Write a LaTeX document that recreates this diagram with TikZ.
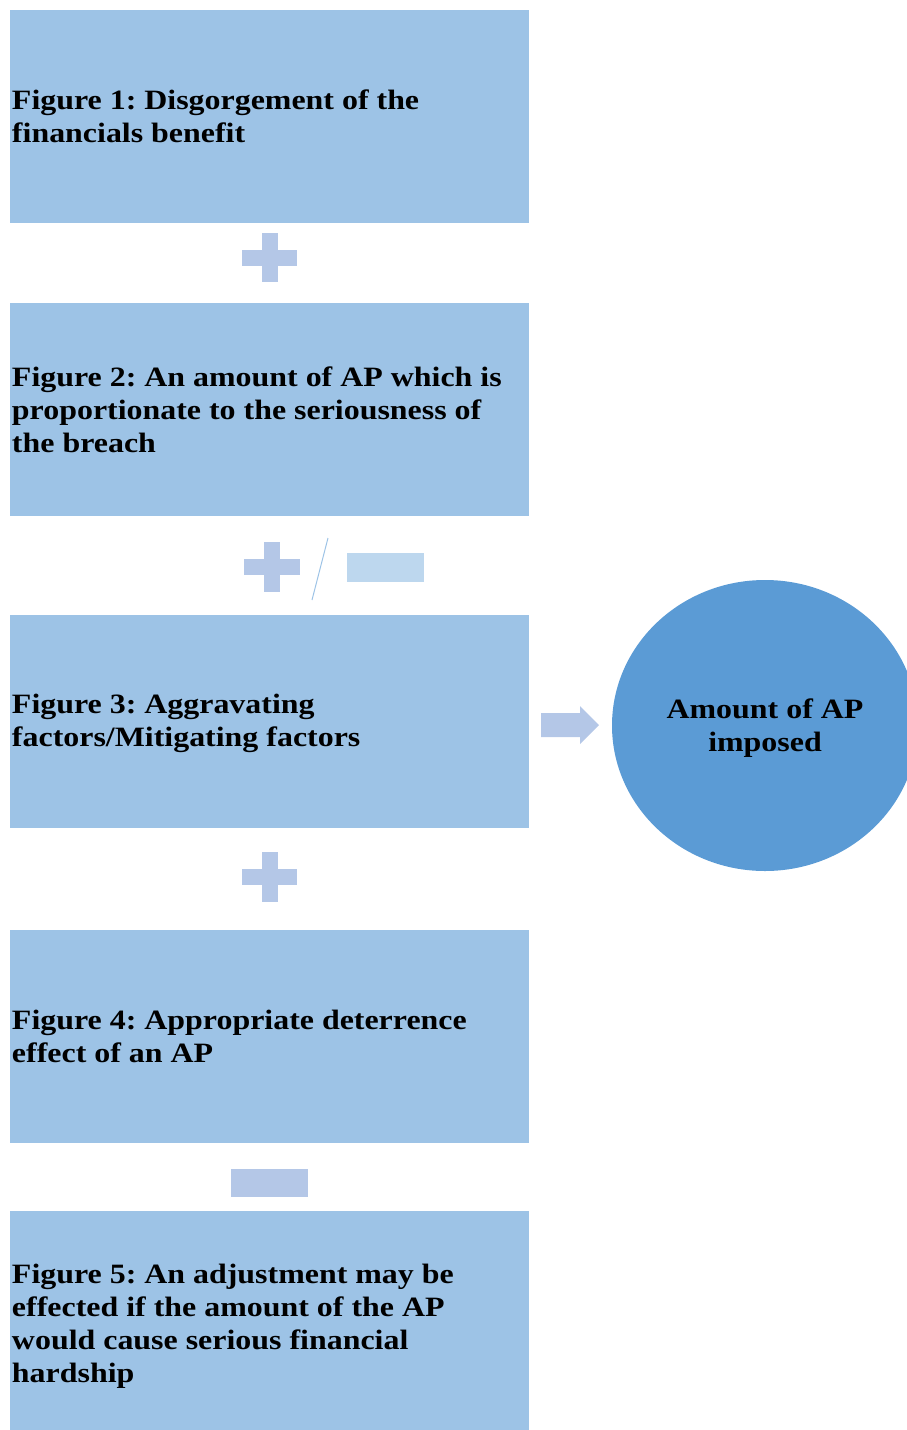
\documentclass[tikz,border=0pt]{standalone}
\usepackage{fontspec}
\setmainfont[FakeStretch=1.14]{Liberation Serif}
\usepackage{xcolor}
\usetikzlibrary{positioning,shapes.geometric}

\definecolor{boxblue}{HTML}{9DC3E6}
\definecolor{ballblue}{HTML}{5B9BD5}
\definecolor{signblue}{HTML}{B4C7E7}
\definecolor{paleblue}{HTML}{BDD7EE}
\frenchspacing

\begin{document}
\begin{tikzpicture}[x=1pt,y=-1pt,
  fig/.style={fill=boxblue, inner xsep=2pt, inner ysep=0pt, minimum width=519pt, minimum height=213pt,
    text width=515pt, align=flush left, font=\fontsize{28}{33}\selectfont\bfseries},
  bar/.style={fill=signblue, inner sep=0pt},
  ann/.style={font=\fontsize{28}{33}\selectfont\bfseries, align=center}]
\useasboundingbox (0,0) rectangle (907,1430);
% the five steps
\node[fig] (f1) at (269.5,116.5) {Figure 1: Disgorgement of the financials benefit};
\node[fig, below=80pt of f1] (f2) {Figure 2: An amount of AP which is proportionate to the seriousness of the breach};
\node[fig, below=98pt of f2] (f3) {\rule{0pt}{23pt}Figure 3: Aggravating factors/Mitigating factors};
\node[fig, below=102pt of f3] (f4) {Figure 4: Appropriate deterrence effect of an AP};
\node[fig, below=67pt of f4, minimum height=219pt] (f5) {\rule{0pt}{31pt}Figure 5: An adjustment may be effected if the amount of the AP would cause serious financial hardship};
% result
\node[ellipse, fill=ballblue, minimum width=306pt, minimum height=291pt, ann] (res) at (765,725.5) {\rule{0pt}{25pt}Amount of AP\\imposed};
% signs between the steps
\node[bar, minimum width=55pt, minimum height=16pt] (p1h) at (269.5,257.5) {};
\node[bar, minimum width=16pt, minimum height=49pt] (p1v) at (269.5,257.5) {};
\node[bar, minimum width=56pt, minimum height=16pt] (p2h) at (272,567) {};
\node[bar, minimum width=16pt, minimum height=50pt] (p2v) at (272,567) {};
\coordinate (s1) at (312,600);
\coordinate (s2) at (328,538);
\draw[boxblue, line width=1pt] (s1) -- (s2);
\node[bar, fill=paleblue, minimum width=77pt, minimum height=29pt] (m1) at (385.5,567.5) {};
\node[bar, minimum width=55pt, minimum height=16pt] (p3h) at (269.5,877) {};
\node[bar, minimum width=16pt, minimum height=50pt] (p3v) at (269.5,877) {};
\node[bar, minimum width=77pt, minimum height=28pt] (m2) at (269.5,1183) {};
% block arrow to the result
\fill[signblue] (541,713) -- (580,713) -- (580,706) -- (599,725) -- (580,744) -- (580,737) -- (541,737) -- cycle;
\end{tikzpicture}
\end{document}
